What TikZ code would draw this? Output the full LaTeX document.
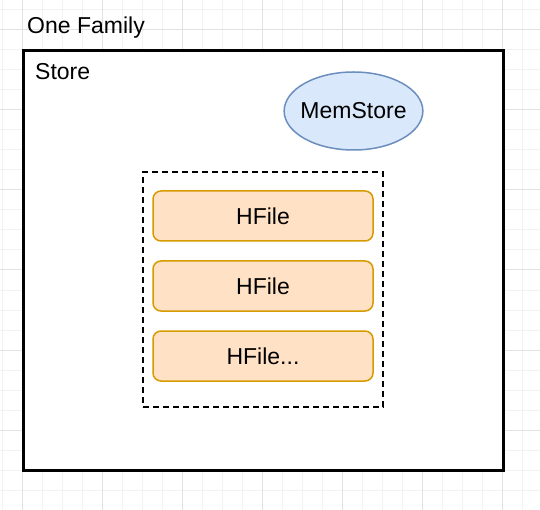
\documentclass[tikz,border=0pt]{standalone}
\usepackage{fontspec}
\setmainfont{Liberation Sans}
\usetikzlibrary{positioning, shapes.geometric}

\definecolor{memfill}{HTML}{DAE8FC}
\definecolor{memdraw}{HTML}{6C8EBF}
\definecolor{hfill}{HTML}{FFE2C6}
\definecolor{hdraw}{HTML}{D79B00}
\definecolor{gridminor}{HTML}{F2F2F2}
\definecolor{gridmajor}{HTML}{E2E2E2}

\begin{document}
\begin{tikzpicture}[
    x=1pt, y=-1pt,
    % Node styles
    every node/.style={font=\fontsize{23}{27}\selectfont},
    storebox/.style={
        rectangle,
        draw=black,
        fill=white,
        line width=3pt,
        minimum width=480pt,
        minimum height=419pt
    },
    filegroup/.style={
        rectangle,
        draw=black,
        fill=white,
        dash pattern=on 6pt off 4pt,
        line width=1.5pt,
        minimum width=240pt,
        minimum height=235pt
    },
    hfile/.style={
        rectangle,
        rounded corners=8pt,
        draw=hdraw,
        fill=hfill,
        line width=1.5pt,
        minimum width=220pt,
        minimum height=50pt,
        inner sep=0pt,
        outer sep=0pt
    },
    memstore/.style={
        ellipse,
        draw=memdraw,
        fill=memfill,
        line width=1.5pt,
        minimum height=78pt,
        inner xsep=-4pt,
        inner ysep=0pt
    },
    minorgrid/.style={draw=gridminor, line width=1pt},
    majorgrid/.style={draw=gridmajor, line width=1pt}
]

\useasboundingbox (0,0) rectangle (540,510);

% Background grid
\fill[white] (0,0) rectangle (540,510);
\foreach \x in {2,22,...,522} {
    \draw[minorgrid] (\x,0) -- (\x,510);
}
\foreach \y in {10,30,...,510} {
    \draw[minorgrid] (0,\y) -- (540,\y);
}
\foreach \x in {22,102,...,502} {
    \draw[majorgrid] (\x,0) -- (\x,510);
}
\foreach \y in {30,110,...,510} {
    \draw[majorgrid] (0,\y) -- (540,\y);
}

% Family and store
\node[anchor=west, inner sep=0pt] (family) at (27,28) {One Family};
\node[storebox] (store) at (263,260.5) {};
\node[anchor=west, inner sep=0pt] (storelabel) at (35,72) {Store};

% MemStore
\node[memstore] (mem) at (353.5,111) {MemStore};

% HFiles
\node[filegroup] (files) at (263,289.5) {};
\node[hfile] (hf1) at (263,216) {HFile};
\node[hfile, below=20pt of hf1] (hf2) {HFile};
\node[hfile, below=20pt of hf2] (hf3) {HFile...};

\end{tikzpicture}
\end{document}
